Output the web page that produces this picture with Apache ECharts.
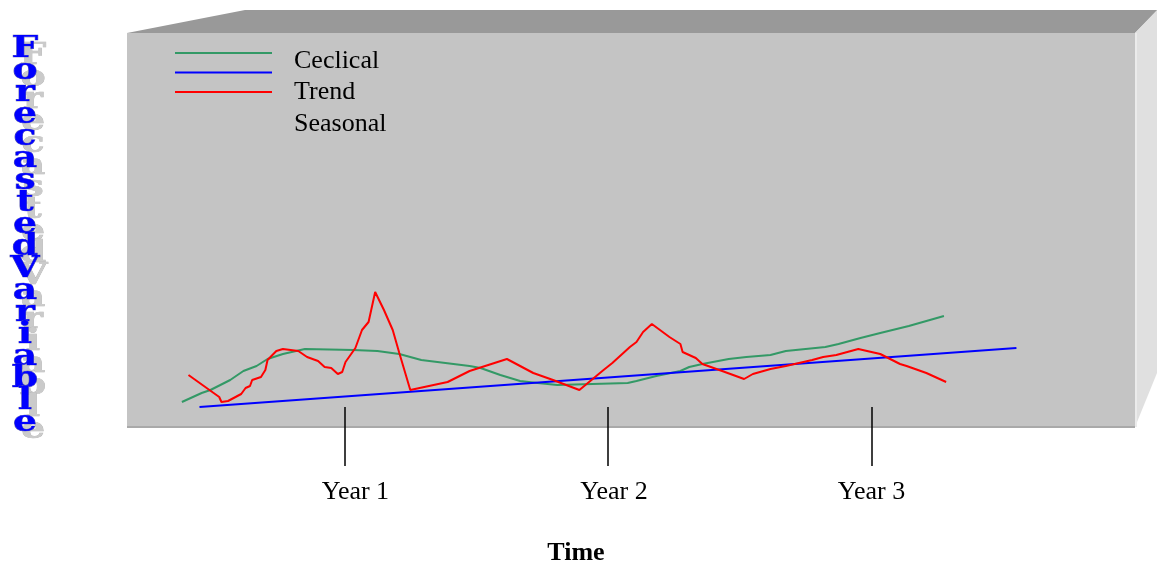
<!DOCTYPE html>
<html>
<head>
<meta charset="utf-8">
<script src="https://cdn.jsdelivr.net/npm/echarts@6/dist/echarts.min.js"></script>
<style>
html, body {margin: 0; padding: 0; background: #fff;}
#chart {width: 1157px; height: 565px;}
</style>
</head>
<body>
<div id="chart"></div>
<script>
// x = months from start, y = forecasted value (arbitrary units)
var yearMonths = [12, 24, 36];
var yearLabels = ['Year 1', 'Year 2', 'Year 3'];
var seriesNames = ['Ceclical', 'Trend', 'Seasonal'];
var seriesColors = ['#339966', '#0000ff', '#ff0000'];

var cyclical = [[4.6,25],[5.5,34],[5.9,37],[6.8,47],[7.4,56],[8.0,61],[8.5,68],[9.2,73],[10.2,78],
	[12.4,77],[13.5,76],[14.5,73],[15.5,67],[17.7,61],[18.2,59],[19.1,52],[20.0,46],[20.8,44],[21.7,42],
	[24.9,44],[25.3,46],[26.2,51],[27.3,56],[27.7,60],[28.3,63],[29.5,68],[30.3,70],[31.4,72],[32.1,76],
	[33.9,80],[34.5,83],[35.5,89],[36.4,94],[37.7,101],[39.3,111]];

var trend = [[5.4,20],[42.6,79]];

var seasonal = [[4.9,52],[5.6,41],[6.3,30],[6.4,25],[6.7,26],[7.3,33],[7.5,39],[7.7,41],[7.8,47],
	[8.2,50],[8.4,57],[8.5,67],[8.9,76],[9.2,78],[9.9,76],[10.3,70],[10.8,66],[11.1,60],[11.4,59],
	[11.7,53],[11.9,55],[12.05,65],[12.5,79],[12.8,97],[13.1,105],[13.4,135],[13.8,117],[14.2,97],
	[14.5,74],[15.0,37],[16.7,45],[17.7,56],[19.4,68],[20.6,54],[21.5,47],[22.7,37],[23.8,57],[24.2,64],
	[24.5,70],[25.0,80],[25.3,85],[25.6,95],[26.0,103],[26.8,90],[27.3,83],[27.4,75],[28.0,69],[28.3,63],
	[29.2,56],[29.7,52],[30.2,48],[30.6,53],[31.4,58],[32.1,61],[33.3,67],[33.8,70],[34.4,72],[35.4,78],
	[36.4,73],[37.3,63],[37.6,61],[38.5,54],[39.4,45]];

var yTitle = 'ForecastedVariable'.split('').join('\n');

var chart = echarts.init(document.getElementById('chart'));

// legend is drawn by hand: the sample lines and the names are not on the same rows
var legendGraphics = [];
seriesColors.forEach(function (c, i) {
	legendGraphics.push({
		type: 'line',
		shape: {x1: 175, y1: 53 + i * 19.5, x2: 272, y2: 53 + i * 19.5},
		style: {stroke: c, lineWidth: 2}
	});
});
seriesNames.forEach(function (n, i) {
	legendGraphics.push({
		type: 'text',
		x: 294, y: 61 + i * 31.5,
		style: {text: n, font: '26px "Liberation Serif"', fill: '#000', verticalAlign: 'middle'}
	});
});

var yTitleFont = 'bold 29px "DejaVu Serif"';

var option = {
	animation: false,
	backgroundColor: '#fff',
	grid: {
		left: 127, right: 22, top: 33, bottom: 138,
		show: true,
		backgroundColor: '#c4c4c4',
		borderWidth: 0
	},
	xAxis: {
		type: 'value',
		min: 2.1,
		max: 48,
		offset: -20,
		axisLine: {show: false},
		splitLine: {show: false},
		axisTick: {
			show: true,
			customValues: yearMonths,
			length: 59,
			lineStyle: {color: '#000', width: 1.5}
		},
		axisLabel: {
			customValues: yearMonths,
			margin: 72,
			fontFamily: 'Liberation Serif',
			fontSize: 26,
			color: '#000',
			formatter: function (v) {
				var i = yearMonths.indexOf(v);
				return '{y' + i + '|' + yearLabels[i] + '}';
			},
			rich: {
				y0: {padding: [0, 0, 0, 22]},
				y1: {padding: [0, 0, 0, 12]},
				y2: {padding: [0, 0, 0, 0]}
			}
		}
	},
	yAxis: {
		type: 'value',
		min: 0,
		max: 394,
		show: false
	},
	graphic: [
		// top face
		{type: 'polygon', shape: {points: [[127,33],[245,10],[1157,10],[1157,11],[1135,33]]}, style: {fill: '#999999'}},
		// right face
		{type: 'polygon', shape: {points: [[1135,33],[1157,10],[1157,373],[1135,427]]}, style: {fill: '#e0e0e0'}},
		{type: 'rect', shape: {x: 1135, y: 33, width: 2, height: 394}, style: {fill: '#ebebeb'}},
		// bottom edge
		{type: 'rect', shape: {x: 127, y: 426, width: 1008, height: 2}, style: {fill: '#a9a9a9'}},
		// y title with shadow
		{type: 'text', x: 33, y: 45, scaleX: 1.3,
			style: {text: yTitle, font: yTitleFont, lineHeight: 22, fill: '#cacaca', stroke: '#b4b4b4', lineWidth: 0.6, align: 'center', verticalAlign: 'top'}},
		{type: 'text', x: 25, y: 38, scaleX: 1.3,
			style: {text: yTitle, font: yTitleFont, lineHeight: 22, fill: '#0000ff', stroke: '#5a5ab0', lineWidth: 0.7, align: 'center', verticalAlign: 'top'}},
		// x title
		{type: 'text', x: 576, y: 553,
			style: {text: 'Time', font: 'bold 26px "Liberation Serif"', fill: '#000', align: 'center', verticalAlign: 'middle'}}
	].concat(legendGraphics),
	series: [
		{name: seriesNames[0], type: 'line', data: cyclical, symbol: 'none', lineStyle: {color: seriesColors[0], width: 2}},
		{name: seriesNames[1], type: 'line', data: trend, symbol: 'none', lineStyle: {color: seriesColors[1], width: 2}},
		{name: seriesNames[2], type: 'line', data: seasonal, symbol: 'none', lineStyle: {color: seriesColors[2], width: 2}}
	]
};

chart.setOption(option);
</script>
</body>
</html>
